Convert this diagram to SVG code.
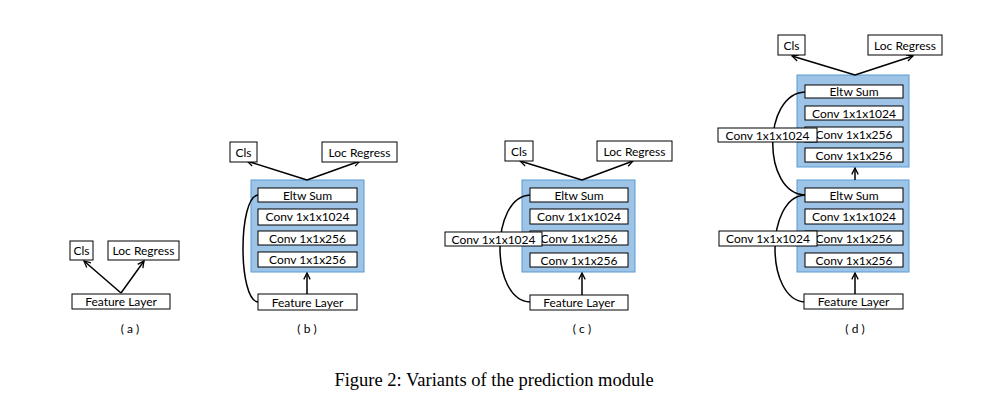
<svg xmlns="http://www.w3.org/2000/svg" width="987" height="403" viewBox="0 0 987 403">
<defs>
<style>
.box{fill:#fff;stroke:#000;stroke-width:1}
.blue{fill:#9dc3e6;stroke:#5b9bd5;stroke-width:1}
.t{font-family:Lato,"Open Sans",sans-serif;font-size:12px;text-anchor:middle;fill:#000}
.lbl{font-family:Lato,"Open Sans",sans-serif;font-size:12px;text-anchor:middle;fill:#000}
.cap{font-family:"Liberation Serif","Times New Roman",serif;font-size:18.5px;text-anchor:middle;fill:#000}
.conn{fill:none;stroke:#000;stroke-width:1.5}
</style>
<marker id="ah" viewBox="0 0 10 10" refX="9" refY="5" markerWidth="8" markerHeight="8" orient="auto" markerUnits="userSpaceOnUse">
<path d="M1,1 L9,5 L1,9" fill="none" stroke="#000" stroke-width="1.6"/>
</marker>
</defs>
<rect width="987" height="403" fill="#fff"/>

<!-- blue containers -->
<g id="b-block"><rect class="blue" x="251" y="180" width="113" height="92"/></g>
<g id="c-block"><rect class="blue" x="522" y="180" width="113" height="92"/></g>
<g id="d-block-top"><rect class="blue" x="797" y="75" width="112" height="92"/></g>
<g id="d-block-bottom"><rect class="blue" x="797" y="180" width="112" height="92"/></g>

<g id="connectors">
<!-- a -->
<path class="conn" d="M121,293 L84,261" marker-end="url(#ah)"/>
<path class="conn" d="M121,293 L144,261" marker-end="url(#ah)"/>
<!-- b -->
<path class="conn" d="M307,180 L247,161" marker-end="url(#ah)"/>
<path class="conn" d="M307,180 L360,161" marker-end="url(#ah)"/>
<path class="conn" d="M307,294 L307,273" marker-end="url(#ah)"/>
<path class="conn" d="M258,195 C238,197 238,300 258,302"/>
<!-- c -->
<path class="conn" d="M582,180 L520,161" marker-end="url(#ah)"/>
<path class="conn" d="M582,180 L633,161" marker-end="url(#ah)"/>
<path class="conn" d="M582,295 L582,273" marker-end="url(#ah)"/>
<path class="conn" d="M530,195 C490,197 490,300 530,302"/>
<!-- d -->
<path class="conn" d="M855,75 L792,56" marker-end="url(#ah)"/>
<path class="conn" d="M855,75 L913,56" marker-end="url(#ah)"/>
<path class="conn" d="M855,180 L855,168" marker-end="url(#ah)"/>
<path class="conn" d="M855,294 L855,273" marker-end="url(#ah)"/>
<path class="conn" d="M805,92 C762,94 762,193 805,195"/>
<path class="conn" d="M805,195 C765,197 765,300 805,302"/>
</g>

<!-- (a) -->
<g id="a-cls"><rect class="box" x="70" y="241" width="23" height="19"/><text class="t" x="81.5" y="255">Cls</text></g>
<g id="a-loc"><rect class="box" x="108" y="241" width="71" height="19"/><text class="t" x="143.5" y="255">Loc Regress</text></g>
<g id="a-feat"><rect class="box" x="72" y="294" width="98" height="15"/><text class="t" x="121" y="306">Feature Layer</text></g>
<text class="lbl" x="130" y="333">( a )</text>

<!-- (b) -->
<g id="b-cls"><rect class="box" x="230" y="142" width="27" height="20"/><text class="t" x="243.5" y="156.5">Cls</text></g>
<g id="b-loc"><rect class="box" x="322" y="142" width="75" height="20"/><text class="t" x="359.5" y="156.5">Loc Regress</text></g>
<g id="b-eltw"><rect class="box" x="258" y="188" width="99" height="14"/><text class="t" x="307.5" y="199.5">Eltw Sum</text></g>
<g id="b-conv1"><rect class="box" x="258" y="209" width="99" height="16"/><text class="t" x="307.5" y="221">Conv 1x1x1024</text></g>
<g id="b-conv2"><rect class="box" x="258" y="231" width="99" height="14"/><text class="t" x="307.5" y="242.5">Conv 1x1x256</text></g>
<g id="b-conv3"><rect class="box" x="258" y="252" width="99" height="15"/><text class="t" x="307.5" y="264">Conv 1x1x256</text></g>
<g id="b-feat"><rect class="box" x="258" y="294" width="99" height="16"/><text class="t" x="307.5" y="306.5">Feature Layer</text></g>
<text class="lbl" x="307" y="333">( b )</text>

<!-- (c) -->
<g id="c-cls"><rect class="box" x="505" y="141" width="28" height="20"/><text class="t" x="519" y="155.5">Cls</text></g>
<g id="c-loc"><rect class="box" x="597" y="141" width="75" height="20"/><text class="t" x="634.5" y="155.5">Loc Regress</text></g>
<g id="c-eltw"><rect class="box" x="530" y="188" width="98" height="14"/><text class="t" x="579" y="199.5">Eltw Sum</text></g>
<g id="c-conv1"><rect class="box" x="530" y="209" width="98" height="15"/><text class="t" x="579" y="220.5">Conv 1x1x1024</text></g>
<g id="c-conv2"><rect class="box" x="530" y="231" width="98" height="14"/><text class="t" x="579" y="242.5">Conv 1x1x256</text></g>
<g id="c-conv3"><rect class="box" x="530" y="253" width="98" height="14"/><text class="t" x="579" y="264.5">Conv 1x1x256</text></g>
<g id="c-side"><rect class="box" x="445" y="232" width="97" height="14"/><text class="t" x="493.5" y="243.5">Conv 1x1x1024</text></g>
<g id="c-feat"><rect class="box" x="530" y="295" width="98" height="15"/><text class="t" x="579" y="306.5">Feature Layer</text></g>
<text class="lbl" x="582" y="333">( c )</text>

<!-- (d) -->
<g id="d-cls"><rect class="box" x="778" y="35" width="27" height="20"/><text class="t" x="791.5" y="49.5">Cls</text></g>
<g id="d-loc"><rect class="box" x="868" y="35" width="74" height="20"/><text class="t" x="905" y="49.5">Loc Regress</text></g>
<g id="d-eltw1"><rect class="box" x="805" y="85" width="98" height="13"/><text class="t" x="854" y="96">Eltw Sum</text></g>
<g id="d-conv1a"><rect class="box" x="805" y="106" width="98" height="14"/><text class="t" x="854" y="117.5">Conv 1x1x1024</text></g>
<g id="d-conv1b"><rect class="box" x="805" y="127" width="98" height="15"/><text class="t" x="854" y="138.5">Conv 1x1x256</text></g>
<g id="d-conv1c"><rect class="box" x="805" y="148" width="98" height="14"/><text class="t" x="854" y="159.5">Conv 1x1x256</text></g>
<g id="d-side1"><rect class="box" x="718" y="128" width="99" height="14"/><text class="t" x="767.5" y="139.5">Conv 1x1x1024</text></g>
<g id="d-eltw2"><rect class="box" x="805" y="188" width="98" height="14"/><text class="t" x="854" y="199.5">Eltw Sum</text></g>
<g id="d-conv2a"><rect class="box" x="805" y="209" width="98" height="15"/><text class="t" x="854" y="220.5">Conv 1x1x1024</text></g>
<g id="d-conv2b"><rect class="box" x="805" y="231" width="98" height="14"/><text class="t" x="854" y="242.5">Conv 1x1x256</text></g>
<g id="d-conv2c"><rect class="box" x="805" y="253" width="98" height="14"/><text class="t" x="854" y="264.5">Conv 1x1x256</text></g>
<g id="d-side2"><rect class="box" x="719" y="231" width="98" height="15"/><text class="t" x="768" y="242.5">Conv 1x1x1024</text></g>
<g id="d-feat"><rect class="box" x="804" y="294" width="99" height="15"/><text class="t" x="853.5" y="306">Feature Layer</text></g>
<text class="lbl" x="855" y="333">( d )</text>

<text class="cap" x="494" y="386">Figure 2: Variants of the prediction module</text>
</svg>
